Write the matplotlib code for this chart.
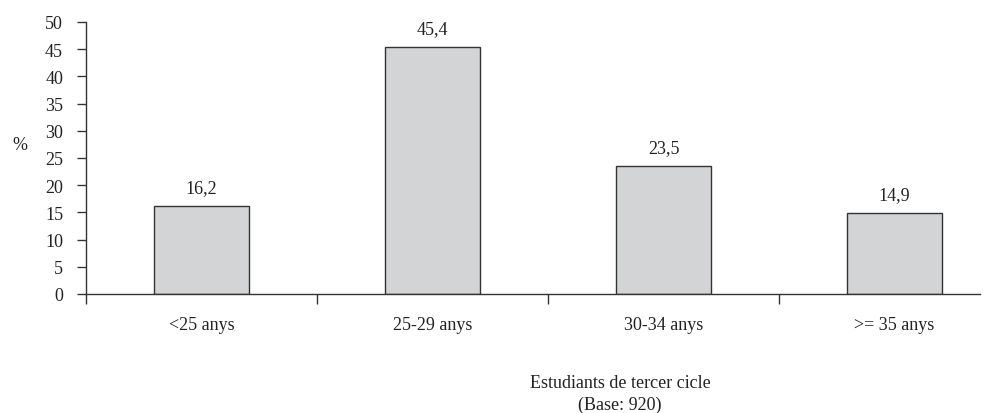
import matplotlib.pyplot as plt

categories = ['<25 anys', '25-29 anys', '30-34 anys', '>= 35 anys']
values = [16.2, 45.4, 23.5, 14.9]
value_labels = ['16,2', '45,4', '23,5', '14,9']

plt.rcParams['font.family'] = ['Liberation Serif', 'DejaVu Serif']
plt.rcParams['font.size'] = 13

fig = plt.figure(figsize=(9.96, 4.14), dpi=100)
ax = fig.add_axes([86 / 996, 1 - 295 / 414, (980 - 86) / 996, (295 - 23) / 414])

x = list(range(len(categories)))
bars = ax.bar(x, values, width=0.41, color='#d3d4d6', edgecolor='#333333', linewidth=1.0)

for b, lab in zip(bars, value_labels):
    ax.annotate(lab, (b.get_x() + b.get_width() / 2, b.get_height()),
                xytext=(0, 7), textcoords='offset points', ha='center', va='bottom',
                color='#222222')

ax.set_xlim(-0.5, 3.37)
ax.set_ylim(0, 50)
ax.set_yticks(range(0, 55, 5))

# category boundary ticks
ax.set_xticks([-0.5, 0.5, 1.5, 2.5])
ax.set_xticklabels([])
ax.tick_params(axis='x', direction='out', length=7, width=1, color='#333333')
ax.tick_params(axis='y', direction='out', length=6.5, width=1, color='#333333', pad=10,
               labelcolor='#222222')
for i, c in enumerate(categories):
    ax.text(i, -0.08, c, transform=ax.get_xaxis_transform(), ha='center', va='top',
            color='#222222')

for s in ['top', 'right']:
    ax.spines[s].set_visible(False)
for s in ['left', 'bottom']:
    ax.spines[s].set_color('#333333')
    ax.spines[s].set_linewidth(1.0)

fig.text(12 / 996, 1 - 145 / 414, '%', ha='left', va='center', color='#222222')
fig.text(620 / 996, 1 - 384 / 414, 'Estudiants de tercer cicle', ha='center', va='center',
         color='#222222')
fig.text(620 / 996, 1 - 405 / 414, '(Base: 920)', ha='center', va='center', color='#222222')

fig.savefig('out.png', dpi=100)
